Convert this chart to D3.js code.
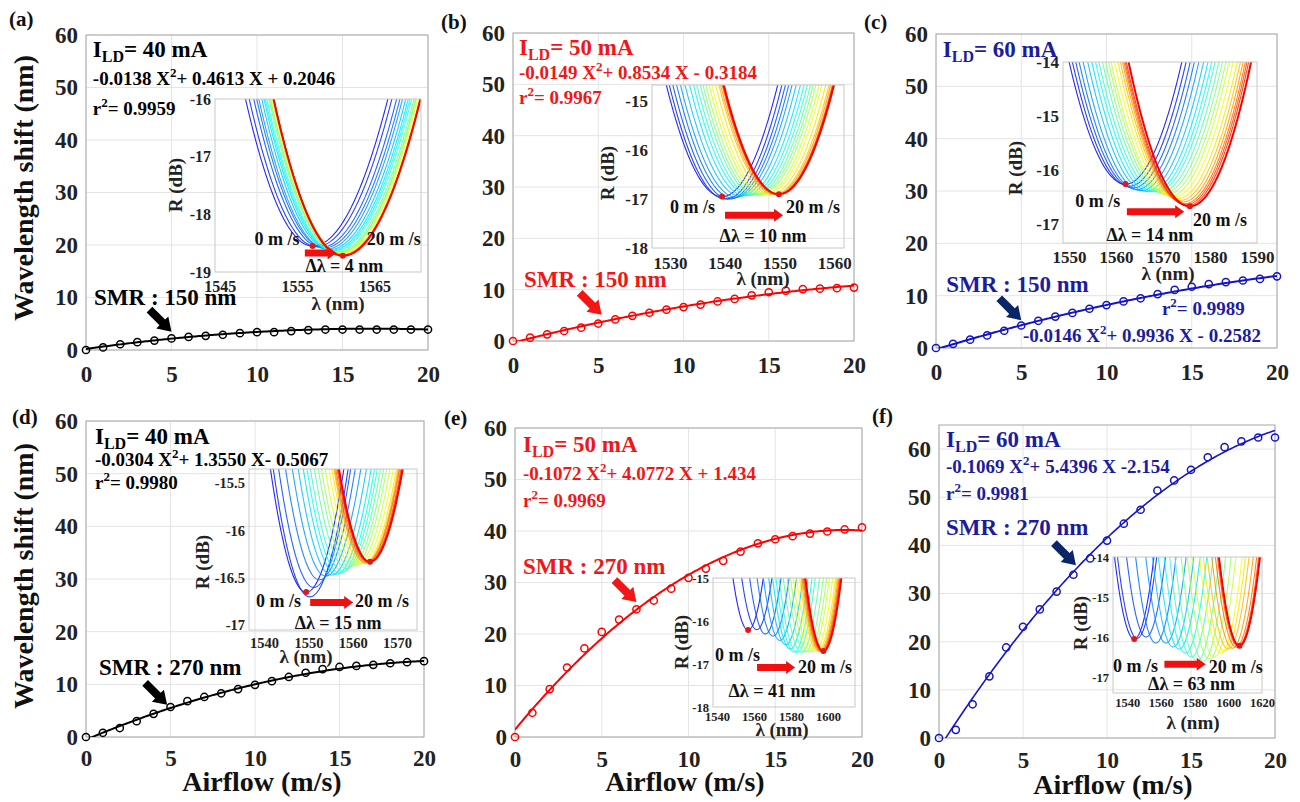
<!DOCTYPE html>
<html>
<head>
<meta charset="utf-8">
<script src="https://cdn.jsdelivr.net/npm/d3@7"></script>
<style>
body { margin: 0; background: #fff; }
svg text { font-family: "Liberation Serif", "Times New Roman", serif; font-weight: bold; }
</style>
</head>
<body>
<svg id="fig" width="1300" height="802"></svg>
<script>
// ---- data ----
var airflow = [0, 1, 2, 3, 4, 5, 6, 7, 8, 9, 10, 11, 12, 13, 14, 15, 16, 17, 18, 19, 20];

var shiftA = [0, 0.5, 1.1, 1.5, 1.8, 2.2, 2.5, 2.7, 2.9, 3.2, 3.4, 3.4, 3.6, 3.8, 3.9, 3.9, 3.9, 3.9, 3.9, 3.9, 3.9];
var shiftB = [0, 0.65, 1.3, 1.95, 2.6, 3.4, 4.2, 4.9, 5.5, 6.1, 6.6, 7.1, 7.7, 8.2, 8.9, 9.5, 9.8, 10.1, 10.2, 10.3, 10.4];
var shiftC = [0, 0.8, 1.6, 2.4, 3.3, 4.3, 5.2, 6.0, 6.7, 7.5, 8.2, 8.9, 9.5, 10.3, 11.1, 11.7, 12.2, 12.6, 12.9, 13.2, 13.7];
var shiftD = [0, 0.8, 1.7, 3.0, 4.4, 5.7, 6.8, 7.6, 8.3, 9.1, 9.9, 10.6, 11.4, 12.2, 12.9, 13.3, 13.5, 13.7, 14.0, 14.2, 14.4];
var shiftE = [0, 4.7, 9.3, 13.5, 17.2, 20.4, 22.8, 24.8, 26.5, 28.8, 30.9, 32.7, 34.2, 36.0, 37.6, 38.4, 39.0, 39.5, 39.9, 40.3, 40.7];
var shiftF = [0, 1.7, 7.0, 12.8, 18.8, 23.1, 26.7, 30.4, 33.9, 37.3, 41.0, 44.5, 47.4, 51.4, 53.5, 55.7, 58.3, 60.4, 61.6, 62.4, 62.4];

// quadratic fits printed on the panels: [a2, a1, a0]
var fitA = [-0.0138, 0.4613, 0.2046];
var fitB = [-0.0149, 0.8534, -0.3184];
var fitC = [-0.0146, 0.9936, -0.2582];
var fitD = [-0.0304, 1.3550, -0.5067];
var fitE = [-0.1072, 4.0772, 1.434];
var fitF = [-0.1069, 5.4396, -2.154];

var currents = ["40", "50", "60", "40", "50", "60"];
var smrLabels = ["150", "150", "150", "270", "270", "270"];
var r2Labels = ["0.9959", "0.9967", "0.9989", "0.9980", "0.9969", "0.9981"];
var eqLabels = [
    ["-0.0138 X", "+ 0.4613 X + 0.2046"],
    ["-0.0149 X", "+ 0.8534 X - 0.3184"],
    ["-0.0146 X", "+ 0.9936 X - 0.2582"],
    ["-0.0304 X", "+ 1.3550 X- 0.5067"],
    ["-0.1072 X", "+ 4.0772 X + 1.434"],
    ["-0.1069 X", "+ 5.4396 X -2.154"]
];
var deltaLabels = ["4", "10", "14", "15", "41", "63"];

// inset spectra: dip wavelength at 0 m/s, dip depth per airflow step
var baseLambda = [1557.0, 1539.5, 1562.0, 1549.5, 1556.8, 1544.2];
var depthA = [-18.55, -18.56, -18.57, -18.58, -18.6, -18.61, -18.62, -18.63, -18.64, -18.65, -18.66, -18.66, -18.67, -18.68, -18.69, -18.7, -18.7, -18.7, -18.71, -18.71, -18.72];
var depthB = [-16.95, -17.0, -17.0, -16.98, -16.96, -16.94, -16.93, -16.92, -16.92, -16.91, -16.91, -16.9, -16.9, -16.9, -16.9, -16.9, -16.9, -16.9, -16.9, -16.9, -16.9];
var depthC = [-16.26, -16.3, -16.33, -16.36, -16.38, -16.39, -16.4, -16.4, -16.4, -16.41, -16.43, -16.45, -16.48, -16.5, -16.53, -16.56, -16.59, -16.62, -16.64, -16.66, -16.67];
var depthD = [-16.65, -16.7, -16.6, -16.52, -16.48, -16.47, -16.46, -16.45, -16.43, -16.4, -16.38, -16.37, -16.36, -16.35, -16.35, -16.34, -16.34, -16.33, -16.33, -16.33, -16.33];
var depthE = [-16.21, -16.2, -16.3, -16.35, -16.45, -16.55, -16.65, -16.72, -16.73, -16.73, -16.72, -16.72, -16.71, -16.71, -16.7, -16.7, -16.7, -16.7, -16.7, -16.7, -16.7];
var depthF = [-16.05, -16.03, -16.0, -16.15, -16.15, -16.25, -16.3, -16.4, -16.5, -16.6, -16.6, -16.55, -16.5, -16.4, -16.35, -16.3, -16.28, -16.25, -16.23, -16.22, -16.22];

var xTicks = [0, 5, 10, 15, 20];
var yTicks = [0, 10, 20, 30, 40, 50, 60];
var insetXTicks = [[1545, 1555, 1565], [1530, 1540, 1550, 1560], [1550, 1560, 1570, 1580, 1590],
    [1540, 1550, 1560, 1570], [1540, 1560, 1580, 1600], [1540, 1560, 1580, 1600, 1620]];
var insetYTicks = [[-16, -17, -18, -19], [-15, -16, -17, -18], [-14, -15, -16, -17],
    [-15.5, -16, -16.5, -17], [-15, -16, -17, -18], [-14, -15, -16, -17]];

// ---- layout ----
var BLACK = { text: "#000", line: "#000", arrow: "#000" },
    RED = { text: "#f21616", line: "#ff0000", arrow: "#f21616" },
    BLUE = { text: "#1c1c9e", line: "#1414c8", arrow: "#0b2569" };

var panels = [
    { tag: "(a)", tagPos: [9, 26], box: [86, 428, 35, 350], ymax: 60, col: BLACK, shift: shiftA, fit: fitA, depth: depthA, tickPad: 16,
      ild: [0.4, 55.9], eq: [0.4, 50.4], r2: [0.4, 44.8], smr: [0.47, 8.6], tip: [5, 3.5], lw: 2, ylab: [33, 188],
      ins: { box: [215, 421, 99, 272], xd: [1544.4, 1571], yd: [-19, -16], fs: 16, xoff: 20, k: [0.034, 0.027], lab: [338, 310], rlab: [175, 185],
             zero: [1549.5, -18.53], twenty: [1564.0, -18.53], arr: [1556.0, 1560.1, -18.67], dl: [1561.1, -19.0] } },
    { tag: "(b)", tagPos: [441, 29], box: [513, 854, 33, 341], ymax: 60, col: RED, shift: shiftB, fit: fitB, depth: depthB, tickPad: 16,
      ild: [0.35, 55.7], eq: [0.35, 51.1], r2: [0.35, 46.2], smr: [0.65, 10.5], tip: [5.2, 5.1], lw: 2,
      ins: { box: [652, 844, 85, 248], xd: [1526.7, 1561.8], yd: [-18, -14.67], fs: 17, xoff: 21, k: [0.022, 0.022], lab: [763, 285], rlab: [607, 173],
             zero: [1530.0, -17.29], twenty: [1551.2, -17.29], arr: [1540.05, 1550.66, -17.33], dl: [1547.0, -17.88] } },
    { tag: "(c)", tagPos: [864, 29], box: [936, 1277, 34, 348], ymax: 60, col: BLUE, shift: shiftC, fit: fitC, depth: depthC, tickPad: 16,
      ild: [0.4, 55.7], eq: [5.1, 1.15], r2: [13.25, 6.3], smr: [0.6, 10.7], tip: [5.0, 5.3], lw: 2,
      ins: { box: [1063, 1257, 62, 243], xd: [1548.7, 1590], yd: [-17.35, -14], fs: 17, xoff: 20, k: [0.0157, 0.0157], lab: [1168, 280], rlab: [1015, 168],
             zero: [1551.3, -16.68], twenty: [1576.4, -17.04], arr: [1562.3, 1574.5, -16.77], dl: [1567.2, -17.31] } },
    { tag: "(d)", tagPos: [12, 424], box: [86, 424, 421, 737], ymax: 60, col: BLACK, shift: shiftD, fit: fitD, depth: depthD, tickPad: 13,
      ild: [0.53, 55.7], eq: [0.53, 51.5], r2: [0.53, 47], smr: [0.77, 11.8], tip: [4.8, 6.1], lw: 2, ylab: [33, 576], xlab: [262, 791],
      ins: { box: [249, 417, 469, 630], xd: [1536.6, 1574.5], yd: [-17.05, -15.35], fs: 14.5, xoff: 18, k: [0.02, 0.018], lab: [306, 663], rlab: [202, 562],
             zero: [1538.2, -16.81], twenty: [1560.5, -16.81], arr: [1550.4, 1560.1, -16.76], dl: [1556.7, -17.04] } },
    { tag: "(e)", tagPos: [444, 425], box: [515, 862, 428, 737], ymax: 60, col: RED, shift: shiftE, fit: fitE, depth: depthE, tickPad: 14,
      ild: [0.46, 55.3], eq: [0.46, 49.9], r2: [0.46, 44.7], smr: [0.46, 31.6], tip: [7.0, 26.2], lw: 2, xlab: [685, 791],
      ins: { box: [713, 855, 578, 707], xd: [1537.8, 1614.6], yd: [-18, -15], fs: 12.5, xoff: 14, k: [0.018, 0.018], lab: [782, 736], rlab: [681, 642],
             zero: [1538.9, -16.92], twenty: [1583.8, -17.22], arr: [1561.6, 1582.2, -17.08], dl: [1569.7, -17.76] } },
    { tag: "(f)", tagPos: [872, 423], box: [939, 1275, 425, 738], ymax: 65, col: BLUE, shift: shiftF, fit: fitF, depth: depthF, tickPad: 14,
      ild: [0.42, 60.4], eq: [0.42, 55], r2: [0.42, 49.4], smr: [0.42, 42.1], tip: [8.15, 35.9], lw: 1.6, xlab: [1113, 794],
      ins: { box: [1113, 1262, 557, 693], xd: [1531.6, 1620], yd: [-17.4, -14], fs: 12.5, xoff: 14, k: [0.015, 0.015], lab: [1193, 729], rlab: [1080, 623],
             zero: [1531.6, -16.88], twenty: [1588.4, -16.9], arr: [1562.1, 1586.6, -16.68], dl: [1578.2, -17.33] } }
];

var svg = d3.select("#fig");
var defs = svg.append("defs");

function jet(t) {
    var c = function (v) { return 255 * Math.max(0, Math.min(1, v)); };
    return d3.rgb(c(1.5 - Math.abs(4 * t - 3)), c(1.5 - Math.abs(4 * t - 2)), c(1.5 - Math.abs(4 * t - 1))).toString();
}

function addText(g, x, y, parts, color, anchor) {
    var t = g.append("text").attr("x", x).attr("y", y)
        .attr("fill", color).attr("text-anchor", anchor || "start");
    parts.forEach(function (p) {
        t.append("tspan").attr("font-size", p[1]).attr("dy", p[2] || 0).text(p[0]);
    });
    return t;
}

function blockArrow(g, x0, y0, x1, y1, shaft, headW, headL, color) {
    var dx = x1 - x0, dy = y1 - y0,
        len = Math.sqrt(dx * dx + dy * dy),
        ang = Math.atan2(dy, dx) * 180 / Math.PI;
    var pts = [[0, -shaft / 2], [len - headL, -shaft / 2], [len - headL, -headW / 2], [len, 0],
        [len - headL, headW / 2], [len - headL, shaft / 2], [0, shaft / 2]];
    g.append("polygon")
        .attr("points", pts.map(function (p) { return p.join(","); }).join(" "))
        .attr("transform", "translate(" + x0 + "," + y0 + ") rotate(" + ang + ")")
        .attr("fill", color);
}

function drawInset(g, p, i) {
    var ins = p.ins;
    var x = d3.scaleLinear().domain(ins.xd).range([ins.box[0], ins.box[1]]),
        y = d3.scaleLinear().domain(ins.yd).range([ins.box[3], ins.box[2]]);
    var cid = "clipIns" + i;
    defs.append("clipPath").attr("id", cid).append("rect")
        .attr("x", ins.box[0]).attr("y", ins.box[2])
        .attr("width", ins.box[1] - ins.box[0]).attr("height", ins.box[3] - ins.box[2]);

    var base = baseLambda[i];
    var lam = d3.range(ins.xd[0], ins.xd[1] + 0.1, 0.1);
    var line = d3.line().x(function (d) { return x(d[0]); }).y(function (d) { return y(d[1]); });
    var curves = g.append("g").attr("clip-path", "url(#" + cid + ")");
    var n = p.shift.length;
    p.shift.forEach(function (s, j) {
        var c = base + s, m = p.depth[j];
        var pts = lam.map(function (l) {
            var k = l < c ? ins.k[0] : ins.k[1];
            return [l, m + k * (l - c) * (l - c)];
        });
        curves.append("path").attr("d", line(pts))
            .attr("fill", "none")
            .attr("stroke", jet(0.12 + 0.76 * j / (n - 1)))
            .attr("stroke-width", j == n - 1 ? 2 : 1.1)
            .attr("stroke-opacity", j == n - 1 ? 1 : 0.85);
    });

    g.append("rect").attr("x", ins.box[0]).attr("y", ins.box[2])
        .attr("width", ins.box[1] - ins.box[0]).attr("height", ins.box[3] - ins.box[2])
        .attr("fill", "none").attr("stroke", "#c8c8c8").attr("stroke-width", 1);

    // minima markers at 0 and 20 m/s
    g.selectAll(".dot" + i).data([[base, p.depth[0]], [base + p.shift[n - 1], p.depth[n - 1]]])
        .enter().append("circle")
        .attr("cx", function (d) { return x(d[0]); })
        .attr("cy", function (d) { return y(d[1]); })
        .attr("r", 3).attr("fill", "#e01818");

    var fs = ins.fs;
    var ax = g.append("g").attr("transform", "translate(0," + ins.box[3] + ")")
        .call(d3.axisBottom(x).tickValues(insetXTicks[i]).tickSize(0)
            .tickPadding(ins.xoff - 0.71 * fs).tickFormat(function (d) { return String(d); }));
    ax.attr("font-size", fs).select(".domain").remove();
    ax.selectAll("text").attr("fill", "#222");
    var ay = g.append("g").attr("transform", "translate(" + ins.box[0] + ",0)")
        .call(d3.axisLeft(y).tickValues(insetYTicks[i]).tickSize(0)
            .tickPadding(4).tickFormat(function (d) { return String(d); }));
    ay.attr("font-size", fs).select(".domain").remove();
    ay.selectAll("text").attr("fill", "#222");

    addText(g, ins.lab[0], ins.lab[1], [["\u03bb  (nm)", 19]], "#222", "middle");
    g.append("text").attr("transform", "translate(" + ins.rlab[0] + "," + ins.rlab[1] + ") rotate(-90)")
        .attr("text-anchor", "middle").attr("dy", "0.35em").attr("font-size", 19).attr("fill", "#222")
        .text("R (dB)");

    addText(g, x(ins.zero[0]), y(ins.zero[1]), [["0 m /s", 18]], "#111");
    addText(g, x(ins.twenty[0]), y(ins.twenty[1]), [["20 m /s", 18]], "#111");
    addText(g, x(ins.dl[0]), y(ins.dl[1]), [["\u0394\u03bb = " + deltaLabels[i] + " nm", 18]], "#111", "middle");
    blockArrow(g, x(ins.arr[0]), y(ins.arr[2]), x(ins.arr[1]), y(ins.arr[2]), 7, 13, 9, "#f01010");
}

function drawPanel(p, i) {
    var g = svg.append("g");
    var b = p.box;
    var x = d3.scaleLinear().domain([0, 20]).range([b[0], b[1]]),
        y = d3.scaleLinear().domain([0, p.ymax]).range([b[3], b[2]]);

    // grid
    g.selectAll(".gx").data(xTicks).enter().append("line")
        .attr("x1", function (d) { return x(d); }).attr("x2", function (d) { return x(d); })
        .attr("y1", b[2]).attr("y2", b[3]).attr("stroke", "#e4e4e4");
    g.selectAll(".gy").data(yTicks).enter().append("line")
        .attr("y1", function (d) { return y(d); }).attr("y2", function (d) { return y(d); })
        .attr("x1", b[0]).attr("x2", b[1]).attr("stroke", "#e4e4e4");
    g.append("rect").attr("x", b[0]).attr("y", b[2]).attr("width", b[1] - b[0]).attr("height", b[3] - b[2])
        .attr("fill", "none").attr("stroke", "#a8a8a8");

    // axes
    var ax = g.append("g").attr("transform", "translate(0," + b[3] + ")")
        .call(d3.axisBottom(x).tickValues(xTicks).tickSize(0).tickPadding(p.tickPad));
    ax.attr("font-size", 23).select(".domain").remove();
    ax.selectAll("text").attr("fill", "#222");
    var ay = g.append("g").attr("transform", "translate(" + b[0] + ",0)")
        .call(d3.axisLeft(y).tickValues(yTicks).tickSize(0).tickPadding(8));
    ay.attr("font-size", 23).select(".domain").remove();
    ay.selectAll("text").attr("fill", "#222");

    // fit curve + measured points
    var cid = "clipMain" + i;
    defs.append("clipPath").attr("id", cid).append("rect")
        .attr("x", b[0]).attr("y", b[2]).attr("width", b[1] - b[0]).attr("height", b[3] - b[2]);
    var f = p.fit;
    var xs = d3.range(0, 20.05, 0.1);
    var fitLine = d3.line()
        .x(function (d) { return x(d); })
        .y(function (d) { return y(f[0] * d * d + f[1] * d + f[2]); });
    g.append("path").attr("clip-path", "url(#" + cid + ")").attr("d", fitLine(xs))
        .attr("fill", "none").attr("stroke", p.col.line).attr("stroke-width", p.lw);
    g.selectAll(".pt").data(airflow).enter().append("circle")
        .attr("cx", function (d) { return x(d); })
        .attr("cy", function (d, j) { return y(p.shift[j]); })
        .attr("r", 3.6).attr("fill", "none").attr("stroke", p.col.line).attr("stroke-width", 1.5);

    // annotations
    var c = p.col.text;
    addText(g, x(p.ild[0]), y(p.ild[1]), [["I", 23], ["LD", 16, 5], ["= " + currents[i] + " mA", 23, -5]], c);
    addText(g, x(p.eq[0]), y(p.eq[1]), [[eqLabels[i][0], 19], ["2", 13, -8], [eqLabels[i][1], 19, 8]], c);
    addText(g, x(p.r2[0]), y(p.r2[1]), [["r", 19], ["2", 13, -8], ["= " + r2Labels[i], 19, 8]], c);
    addText(g, x(p.smr[0]), y(p.smr[1]), [["SMR : " + smrLabels[i] + " nm", 23]], c);
    var tx = x(p.tip[0]), ty = y(p.tip[1]);
    blockArrow(g, tx - 22, ty - 22, tx, ty, 8, 17, 13, p.col.arrow);

    drawInset(g, p, i);

    addText(g, p.tagPos[0], p.tagPos[1], [[p.tag, 21]], "#111");
    if (p.ylab) {
        g.append("text").attr("transform", "translate(" + p.ylab[0] + "," + p.ylab[1] + ") rotate(-90)")
            .attr("text-anchor", "middle").attr("font-size", 28).attr("fill", "#111")
            .text("Wavelength shift (nm)");
    }
    if (p.xlab) {
        addText(g, p.xlab[0], p.xlab[1], [["Airflow (m/s)", 28]], "#111", "middle");
    }
}

panels.forEach(drawPanel);
</script>
</body>
</html>
